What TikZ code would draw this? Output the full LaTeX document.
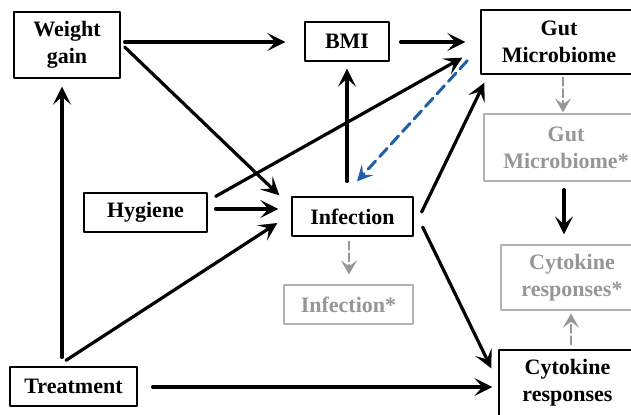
\documentclass[tikz,border=0pt]{standalone}
\usepackage{fontspec}
\setmainfont{Liberation Serif}
\usetikzlibrary{arrows.meta,calc}
\definecolor{ColGrey}{RGB}{150,150,150}
\definecolor{ColGreyBox}{RGB}{178,178,178}
\definecolor{ColBlue}{RGB}{30,95,168}

\begin{document}
\begin{tikzpicture}[
  x=0.5pt, y=-0.5pt,
  >={Stealth[length=9pt,width=9pt,inset=4pt]},
  line cap=round,
  line join=round,
  every node/.style={font=\fontsize{11}{13.5}\selectfont\bfseries, align=center, inner sep=0pt},
  box/.style={draw, line width=0.65pt},
  greybox/.style={draw=ColGreyBox, text=ColGrey, line width=0.65pt},
  arr/.style={->, line width=1.6pt},
  greyarr/.style={-{Stealth[length=7pt,width=8pt,inset=3pt]}, line width=1.2pt, ColGrey, dash pattern=on 4pt off 1.8pt},
  bluearr/.style={-{Stealth[length=8pt,width=8pt,inset=3.5pt]}, line width=1.5pt, ColBlue, dash pattern=on 5.5pt off 3pt}
]
  \useasboundingbox (0,0) rectangle (631,414);

  % Boxes
  \node[box, minimum width=53pt, minimum height=33pt]       (wg)   at (67,45)      {Weight\\gain};
  \node[box, minimum width=42pt, minimum height=19.5pt]     (bmi)  at (347,41.5)   {BMI};
  \node[box, minimum width=78pt, minimum height=32pt]       (gut)  at (559,42)     {Gut\\Microbiome};
  \node[greybox, minimum width=82pt, minimum height=33.5pt] (gutS) at (566,147.5)  {Gut\\Microbiome*};
  \node[box, minimum width=61.5pt, minimum height=19.5pt]   (hyg)  at (145.5,212.5){Hygiene};
  \node[box, minimum width=60.5pt, minimum height=19.5pt]   (inf)  at (352.5,216.5){Infection};
  \node[greybox, minimum width=64.5pt, minimum height=19.5pt](infS) at (348.5,304.5){Infection*};
  \node[greybox, minimum width=71pt, minimum height=32.5pt] (cytS) at (572,277.5)  {Cytokine\\responses*};
  \node[box, minimum width=68.5pt, minimum height=33pt]     (cyt)  at (567.5,383)  {Cytokine\\responses};
  \node[box, minimum width=63.5pt, minimum height=19.5pt]   (trt)  at (73.5,386.5) {Treatment};

  % Causal arrows
  \draw[arr] ($(wg.east)+(4,-3)$)          -- ($(bmi.west)+(-19,0.5)$);
  \draw[arr] ($(wg.east)+(4,2)$)           -- ($(inf.north west)+(-12,-1)$);
  \draw[arr] ($(bmi.east)+(11,0.5)$)       -- ($(gut.west)+(-15,0)$);
  \draw[arr] ($(hyg.north east)+(8,4)$)    -- ($(gut.south west)+(-18,-17)$);
  \draw[arr] ($(hyg.east)+(8,-3.5)$)       -- ($(inf.west)+(-13,-7.5)$);
  \draw[arr] ($(trt.north)+(-7.5,-6)$)     -- ($(inf.west)+(-14,6.5)$);
  \draw[arr] ($(trt.north)+(-11.5,-9)$)    -- ($(wg.south)+(-5,8)$);
  \draw[arr] ($(trt.east)+(15,0.5)$)       -- ($(cyt.west)+(-6,4)$);
  \draw[arr] ($(inf.north)+(-5.5,-15)$)    -- ($(bmi.south)+(0,7)$);
  \draw[arr] ($(inf.east)+(8,-4.5)$)       -- ($(gut.south west)+(4,8)$);
  \draw[arr] ($(inf.east)+(9,10.5)$)       -- ($(cyt.north west)+(-7,19)$);
  \draw[arr] ($(gutS.south)+(-2,8)$)       -- ($(cytS.north)+(-8,-10)$);

  % Feedback and measured copies
  \draw[bluearr] ($(gut.south west)+(-13,-14)$) -- ($(inf.north)+(4.5,-15)$);
  \draw[greyarr] ($(gut.south)+(4,3)$)     -- ($(gutS.north)+(-3,-1)$);
  \draw[greyarr] ($(inf.south)+(-3.5,5)$)  -- ($(infS.north)+(0.5,-10)$);
  \draw[greyarr] ($(cyt.north)+(3.5,-5)$)  -- ($(cytS.south)+(-1,3)$);
\end{tikzpicture}
\end{document}
